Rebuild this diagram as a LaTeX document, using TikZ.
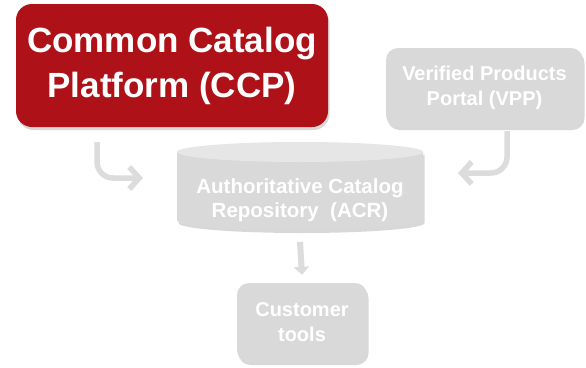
\documentclass[tikz,border=0pt]{standalone}
\usepackage{fontspec}
\setmainfont{Liberation Sans}
\usetikzlibrary{arrows.meta,shadows}

\definecolor{ccpred}{HTML}{AE1118}
\definecolor{boxgray}{HTML}{D9D9D9}
\definecolor{lidgray}{HTML}{E6E6E6}
\definecolor{arrowgray}{HTML}{DCDCDC}

\tikzset{
  softshadow/.style={drop shadow={shadow xshift=1.5pt, shadow yshift=-3pt, opacity=0.22, fill=black!70}},
  graybox/.style={fill=boxgray, rounded corners=12pt, text=white, align=center,
    font=\fontsize{20}{25}\selectfont\bfseries, softshadow},
  flow/.style={draw=arrowgray, line width=5.5pt, rounded corners=16pt,
    -{Straight Barb[length=10pt,width=22pt]}},
}

\begin{document}
\begin{tikzpicture}[x=1pt, y=-1pt]
  \useasboundingbox (0,0) rectangle (586,367);

  \node[fill=ccpred, rounded corners=16pt, text=white, align=center,
        font=\fontsize{35}{45}\selectfont\bfseries, softshadow,
        minimum width=312pt, minimum height=123pt] (ccp) at (172,65.5)
        {Common Catalog\\Platform (CCP)};
  \node[graybox, minimum width=197pt, minimum height=79pt] (vpp) at (484.5,87.5)
        {Verified Products\\Portal (VPP)};
  \node[graybox, minimum width=130pt, minimum height=79pt] (tools) at (302,322.5)
        {Customer\\tools};

  % repository drum
  \fill[boxgray, softshadow] (177,152) -- (177,220)
    arc[start angle=180, end angle=0, x radius=123, y radius=10] -- (423,152) -- cycle;
  \fill[lidgray] (300,152) ellipse[x radius=123, y radius=10];
  \node[text=white, align=center, font=\fontsize{20.5}{24}\selectfont\bfseries] (acr) at (300,200)
        {Authoritative Catalog\\Repository\ \ (ACR)};

  \coordinate (ccpfoot) at ([xshift=-75pt,yshift=-15pt]ccp.south);
  \coordinate (acrleft) at (143,178);
  \coordinate (vppfoot) at ([xshift=22.5pt,yshift=-4pt]vpp.south);
  \coordinate (acrright) at (458,173);
  \coordinate (acrfoot) at (300,242);
  \coordinate (toolstop) at ([yshift=8pt]tools.north);

  \draw[flow] (ccpfoot) |- (acrleft);
  \draw[flow] (vppfoot) |- (acrright);
  \draw[draw=arrowgray, line width=6pt, -{Triangle[length=8pt,width=15pt]}] (acrfoot) -- (toolstop);
\end{tikzpicture}
\end{document}
